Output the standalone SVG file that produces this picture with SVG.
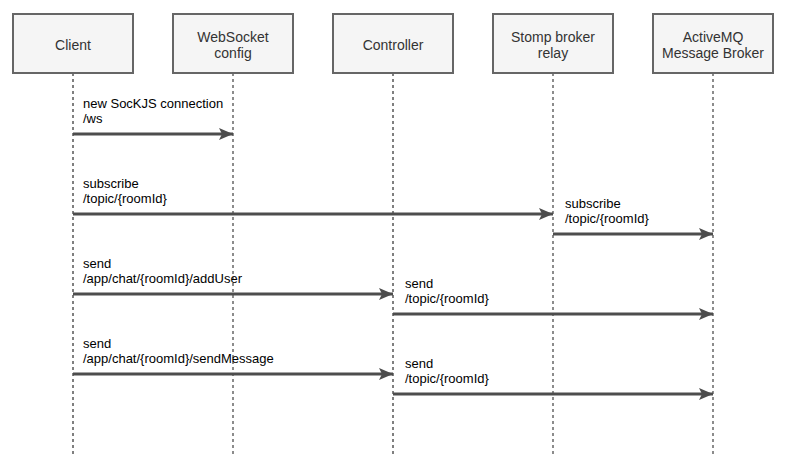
<svg xmlns="http://www.w3.org/2000/svg" width="790" height="473" viewBox="0 0 790 473">
<style>
.box{fill:#f5f5f5;stroke:#666666;stroke-width:2}
.ht{font-family:"Liberation Sans",Arial,sans-serif;font-size:14px;fill:#333333;text-anchor:middle}
.lt{font-family:"Liberation Sans",Arial,sans-serif;font-size:13px;fill:#000000}
.ll1{stroke:#000000;stroke-width:1;stroke-dasharray:3 3;fill:none}
.ll2{stroke:#8c8c8c;stroke-width:2;stroke-dasharray:3 3;fill:none}
.msg{stroke:#4d4d4d;stroke-width:3;fill:none;marker-end:url(#ah)}
</style>
<defs>
<marker id="ah" markerUnits="userSpaceOnUse" markerWidth="16" markerHeight="14" refX="15" refY="7" orient="auto">
<path d="M1,1 L15,7 L1,13 L4,7 Z" fill="#4d4d4d"/>
</marker>
</defs>
<rect width="790" height="473" fill="#ffffff"/>
<g id="lifelines">
<line class="ll1" x1="73" y1="73" x2="73" y2="455"/>
<line class="ll2" x1="233" y1="73" x2="233" y2="455"/>
<line class="ll1" x1="393" y1="73" x2="393" y2="455"/>
<line class="ll2" x1="553" y1="73" x2="553" y2="455"/>
<line class="ll2" x1="713" y1="73" x2="713" y2="455"/>
</g>
<g id="client"><rect class="box" x="13" y="14" width="120" height="59"/><text class="ht" x="73" y="49.5">Client</text></g>
<g id="websocket"><rect class="box" x="173" y="14" width="120" height="59"/><text class="ht" x="233" y="42">WebSocket</text><text class="ht" x="233" y="58">config</text></g>
<g id="controller"><rect class="box" x="333" y="14" width="120" height="59"/><text class="ht" x="393" y="49.5">Controller</text></g>
<g id="stomp"><rect class="box" x="493" y="14" width="120" height="59"/><text class="ht" x="553" y="42">Stomp broker</text><text class="ht" x="553" y="58">relay</text></g>
<g id="activemq"><rect class="box" x="653" y="14" width="120" height="59"/><text class="ht" x="713" y="42">ActiveMQ</text><text class="ht" x="713" y="58">Message Broker</text></g>
<g id="connectors">
<path class="msg" d="M73,134 H233"/>
<path class="msg" d="M73,214 H553"/>
<path class="msg" d="M553,234 H713"/>
<path class="msg" d="M73,294 H393"/>
<path class="msg" d="M393,314 H713"/>
<path class="msg" d="M73,374 H393"/>
<path class="msg" d="M393,394 H713"/>
</g>
<g id="labels">
<text class="lt" x="83" y="108">new SocKJS connection</text><text class="lt" x="83" y="123">/ws</text>
<text class="lt" x="83" y="188">subscribe</text><text class="lt" x="83" y="203">/topic/{roomId}</text>
<text class="lt" x="565" y="208">subscribe</text><text class="lt" x="565" y="223">/topic/{roomId}</text>
<text class="lt" x="83" y="268">send</text><text class="lt" x="83" y="283">/app/chat/{roomId}/addUser</text>
<text class="lt" x="405" y="288">send</text><text class="lt" x="405" y="303">/topic/{roomId}</text>
<text class="lt" x="83" y="348">send</text><text class="lt" x="83" y="363">/app/chat/{roomId}/sendMessage</text>
<text class="lt" x="405" y="368">send</text><text class="lt" x="405" y="383">/topic/{roomId}</text>
</g>
</svg>
